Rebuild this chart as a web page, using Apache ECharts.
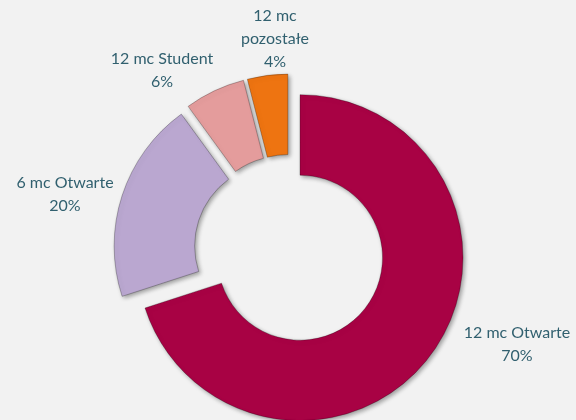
<!DOCTYPE html>
<html>
<head>
<meta charset="utf-8">
<script src="https://cdn.jsdelivr.net/npm/echarts@6/dist/echarts.min.js"></script>
<style>
html,body{margin:0;padding:0;background:#F2F2F2;}
#c{width:576px;height:420px;}
</style>
</head>
<body>
<div id="c"></div>
<script>
const categories = ['12 mc Otwarte', '6 mc Otwarte', '12 mc Student', '12 mc\npozostałe'];
const values = [70, 20, 6, 4];
const colors = ['#A80244', '#BAA7D0', '#E49C9C', '#EE7411'];
const labelCenters = [[517, 344], [65, 194], [162, 70], [275, 39]];

const chart = echarts.init(document.getElementById('c'), null, {renderer: 'canvas'});
chart.setOption({
  backgroundColor: '#F2F2F2',
  animation: false,
  graphic: categories.map((n, i) => ({
    type: 'text',
    x: labelCenters[i][0],
    y: labelCenters[i][1],
    style: {
      text: n + '\n' + values[i] + '%',
      fill: '#31606F',
      font: '16px Lato',
      lineHeight: 23,
      align: 'center',
      verticalAlign: 'middle'
    }
  })),
  series: [{
    type: 'pie',
    center: [289.5, 250],
    radius: [82.5, 163],
    startAngle: 90,
    clockwise: true,
    selectedMode: 'multiple',
    selectedOffset: 13,
    data: categories.map((n, i) => ({
      name: n, value: values[i], selected: true,
      itemStyle: {color: colors[i]}
    })),
    itemStyle: {
      borderColor: 'rgba(0,0,0,0.25)', borderWidth: 1,
      shadowColor: 'rgba(0,0,0,0.35)', shadowBlur: 4, shadowOffsetX: 2, shadowOffsetY: 2
    },
    select: {itemStyle: {borderColor: 'rgba(0,0,0,0.25)', borderWidth: 1}},
    emphasis: {disabled: true},
    label: {show: false},
    labelLine: {show: false}
  }]
});
</script>
</body>
</html>
